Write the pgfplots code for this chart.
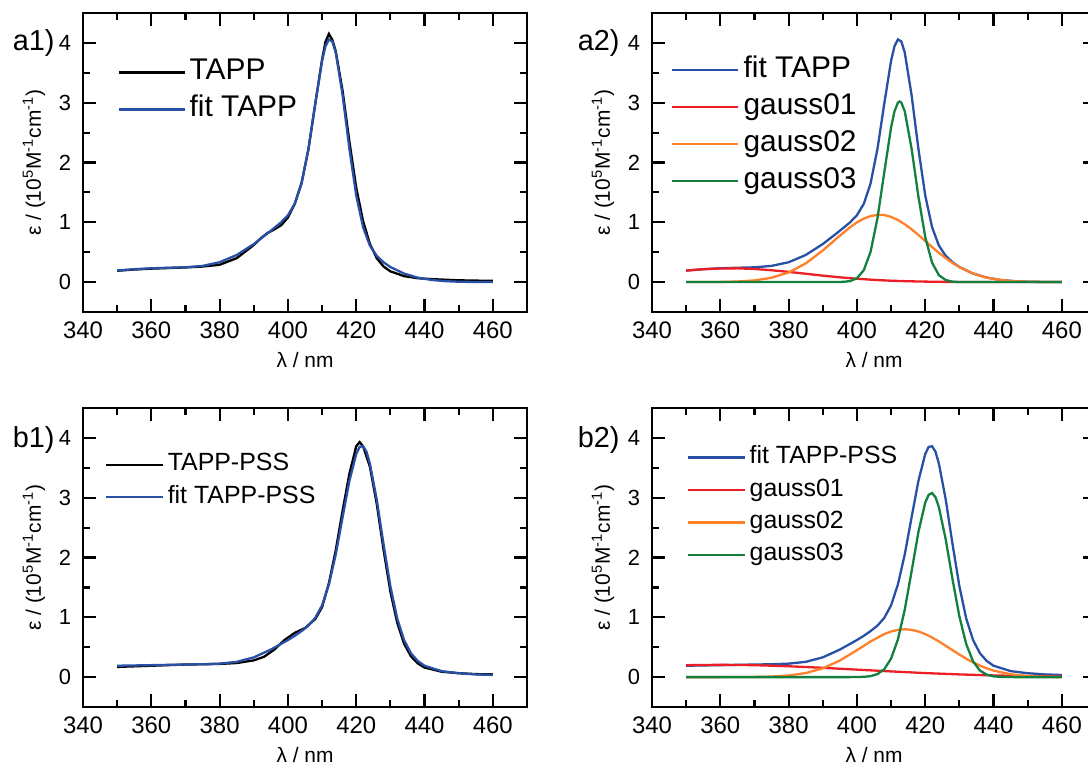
\documentclass[border=0pt]{standalone}
\usepackage{fontspec}
\setmainfont{Liberation Sans}
\usepackage{pgfplots}
\pgfplotsset{compat=1.18}

\definecolor{fitblue}{RGB}{40,80,165}
\definecolor{gred}{RGB}{236,30,38}
\definecolor{gorange}{RGB}{255,128,40}
\definecolor{ggreen}{RGB}{20,128,62}

\pgfplotsset{
  panel/.style={
    scale only axis, width=222bp, height=149.5bp,
    xmin=340, xmax=470, ymin=-0.5, ymax=4.5,
    xtick={340,360,...,460}, ytick={0,1,2,3,4},
    minor x tick num=1, minor y tick num=1,
    tick align=inside, major tick length=6.5bp, minor tick length=3.5bp,
    axis line style={line width=1.3bp},
    every tick/.append style={black, line width=1.1bp},
    /pgf/number format/assume math mode=true,
    xticklabel style={font=\fontsize{12}{14}\selectfont, yshift=-1.5bp},
    yticklabel style={font=\fontsize{11}{13}\selectfont, xshift=-2.5bp},
    xlabel={λ / nm},
    ylabel={ε / (10\textsuperscript{5}M\textsuperscript{-1}cm\textsuperscript{-1})},
    label style={font=\fontsize{10.5}{12}\selectfont},
    every axis plot/.append style={line width=1.15bp, no marks},
    legend cell align=left,
    legend style={draw=none, fill=none, anchor=north west, row sep=0pt},
  },
  biglegend/.style={
    legend style={font=\fontsize{15}{17}\selectfont,
      nodes={inner sep=2bp, text height=11bp, text depth=3.5bp}},
    legend image code/.code={\draw[##1,line width=1.15bp] (0bp,0bp) -- (33bp,0bp);},
  },
  smalllegend/.style={
    legend style={font=\fontsize{12.5}{14}\selectfont,
      nodes={inner sep=2bp, text height=9.2bp, text depth=3bp}},
    legend image code/.code={\draw[##1,line width=1.15bp] (0bp,0bp) -- (28.5bp,0bp);},
  },
}

\begin{document}
\begin{tikzpicture}
\useasboundingbox (0,0) rectangle (544bp,382.5bp);
\clip (0,0) rectangle (544bp,382.5bp);

% a1
\begin{axis}[panel, biglegend, at={(41.5bp,226.5bp)}, anchor=south west,
  legend style={at={(0.063,0.878)}}]
\addplot[black] coordinates {(350,0.19) (355,0.21) (360,0.225) (365,0.235) (370,0.245) (375,0.26) (380,0.29) (385,0.40) (390,0.62) (392,0.73) (394,0.82) (396,0.88) (398,0.95) (400,1.08) (402,1.31) (404,1.66) (406,2.22) (408,2.98) (410,3.72) (411,4.02) (412,4.15) (413,4.05) (414,3.86) (416,3.20) (418,2.35) (420,1.58) (422,1.02) (424,0.64) (426,0.40) (428,0.26) (430,0.18) (434,0.10) (438,0.065) (442,0.05) (446,0.04) (450,0.03) (455,0.025) (460,0.02)};
\addlegendentry{TAPP}
\addplot[fitblue] coordinates {(350,0.193) (355,0.216) (360,0.231) (365,0.240) (370,0.247) (375,0.271) (380,0.332) (385,0.453) (390,0.636) (394,0.813) (396,0.906) (398,1.000) (400,1.118) (402,1.308) (404,1.651) (406,2.222) (408,2.982) (410,3.701) (411,3.945) (412,4.058) (413,4.024) (414,3.841) (416,3.128) (418,2.229) (420,1.449) (422,0.918) (424,0.610) (426,0.439) (428,0.331) (430,0.252) (434,0.143) (438,0.075) (442,0.036) (446,0.016) (450,0.006) (455,0.002) (460,0.000)};
\addlegendentry{fit TAPP}
\end{axis}

% a2
\begin{axis}[panel, biglegend, at={(326bp,226.5bp)}, anchor=south west,
  legend style={at={(0.029,0.885)}}]
\addplot[fitblue] coordinates {(350,0.193) (355,0.216) (360,0.231) (365,0.240) (370,0.247) (375,0.271) (380,0.332) (385,0.453) (390,0.636) (394,0.813) (396,0.906) (398,1.000) (400,1.118) (402,1.308) (404,1.651) (406,2.222) (408,2.982) (410,3.701) (411,3.945) (412,4.058) (413,4.024) (414,3.841) (416,3.128) (418,2.229) (420,1.449) (422,0.918) (424,0.610) (426,0.439) (428,0.331) (430,0.252) (434,0.143) (438,0.075) (442,0.036) (446,0.016) (450,0.006) (455,0.002) (460,0.000)};
\addlegendentry{fit TAPP}
\addplot[gred] coordinates {(350,0.193) (355,0.215) (360,0.228) (365,0.230) (370,0.219) (375,0.198) (380,0.171) (385,0.140) (390,0.108) (395,0.080) (400,0.056) (405,0.037) (410,0.023) (415,0.014) (420,0.008) (425,0.004) (430,0.002) (440,0.000) (460,0.000)};
\addlegendentry{gauss01}
\addplot[gorange] coordinates {(350,0.000) (355,0.001) (360,0.003) (365,0.010) (370,0.028) (375,0.073) (380,0.161) (385,0.313) (390,0.528) (394,0.728) (398,0.918) (400,0.998) (402,1.062) (404,1.104) (406,1.124) (408,1.122) (410,1.090) (412,1.038) (414,0.968) (416,0.883) (418,0.788) (420,0.687) (422,0.587) (424,0.490) (426,0.401) (428,0.320) (430,0.250) (434,0.143) (438,0.075) (442,0.036) (446,0.016) (450,0.006) (455,0.002) (460,0.000)};
\addlegendentry{gauss02}
\addplot[ggreen] coordinates {(350,0) (390,0) (394,0.001) (396,0.004) (398,0.017) (400,0.064) (402,0.198) (404,0.507) (406,1.064) (408,1.832) (410,2.588) (411,2.857) (412,3.001) (412.5,3.02) (413,3.001) (414,2.857) (416,2.232) (418,1.431) (420,0.754) (422,0.325) (424,0.115) (426,0.034) (428,0.008) (430,0.001) (440,0) (460,0)};
\addlegendentry{gauss03}
\end{axis}

% b1
\begin{axis}[panel, smalllegend, at={(41.5bp,29bp)}, anchor=south west,
  legend style={at={(0.034,0.879)}}]
\addplot[black] coordinates {(350,0.17) (355,0.18) (360,0.19) (365,0.20) (370,0.21) (375,0.215) (380,0.22) (385,0.235) (390,0.28) (393,0.34) (396,0.46) (399,0.62) (402,0.74) (405,0.82) (408,0.97) (410,1.17) (412,1.57) (414,2.12) (416,2.78) (418,3.40) (420,3.86) (421,3.93) (422,3.86) (424,3.52) (426,2.90) (428,2.13) (430,1.43) (432,0.91) (434,0.56) (436,0.35) (438,0.23) (440,0.16) (445,0.09) (450,0.065) (455,0.05) (460,0.045)};
\addlegendentry{TAPP-PSS}
\addplot[fitblue] coordinates {(350,0.19) (355,0.195) (360,0.20) (365,0.205) (370,0.21) (375,0.215) (380,0.225) (385,0.255) (390,0.33) (395,0.46) (400,0.62) (402,0.69) (404,0.77) (406,0.86) (408,0.99) (410,1.20) (412,1.55) (414,2.05) (416,2.67) (418,3.28) (420,3.73) (421,3.85) (422,3.86) (423,3.77) (424,3.57) (426,2.97) (428,2.22) (430,1.52) (432,0.98) (434,0.62) (436,0.40) (438,0.27) (440,0.19) (445,0.10) (450,0.065) (455,0.045) (460,0.035)};
\addlegendentry{fit TAPP-PSS}
\end{axis}

% b2
\begin{axis}[panel, smalllegend, at={(326bp,29bp)}, anchor=south west,
  legend style={at={(0.063,0.903)}}]
\addplot[fitblue] coordinates {(350,0.19) (355,0.195) (360,0.20) (365,0.205) (370,0.21) (375,0.215) (380,0.225) (385,0.255) (390,0.33) (395,0.46) (400,0.62) (402,0.69) (404,0.77) (406,0.86) (408,0.99) (410,1.20) (412,1.55) (414,2.05) (416,2.67) (418,3.28) (420,3.73) (421,3.85) (422,3.86) (423,3.77) (424,3.57) (426,2.97) (428,2.22) (430,1.52) (432,0.98) (434,0.62) (436,0.40) (438,0.27) (440,0.19) (445,0.10) (450,0.065) (455,0.045) (460,0.035)};
\addlegendentry{fit TAPP-PSS}
\addplot[gred] coordinates {(350,0.199) (355,0.203) (360,0.205) (365,0.203) (370,0.199) (375,0.191) (380,0.181) (385,0.169) (390,0.155) (395,0.140) (400,0.125) (405,0.110) (410,0.095) (415,0.081) (420,0.067) (425,0.056) (430,0.045) (435,0.036) (440,0.028) (445,0.022) (450,0.017) (455,0.013) (460,0.009)};
\addlegendentry{gauss01}
\addplot[gorange] coordinates {(350,0) (360,0) (365,0.001) (370,0.003) (375,0.009) (380,0.027) (385,0.067) (390,0.147) (395,0.277) (400,0.450) (404,0.596) (408,0.720) (410,0.763) (412,0.791) (414,0.800) (416,0.791) (418,0.763) (420,0.720) (422,0.663) (424,0.596) (426,0.524) (428,0.450) (430,0.377) (432,0.308) (434,0.247) (436,0.193) (438,0.147) (440,0.109) (445,0.047) (450,0.018) (455,0.006) (460,0.002)};
\addlegendentry{gauss02}
\addplot[ggreen] coordinates {(350,0) (398,0) (400,0.001) (402,0.005) (404,0.016) (406,0.050) (408,0.132) (410,0.309) (412,0.630) (414,1.127) (416,1.766) (418,2.426) (420,2.919) (421,3.048) (422,3.078) (423,3.008) (424,2.843) (426,2.301) (428,1.632) (430,1.014) (432,0.552) (434,0.263) (436,0.110) (438,0.040) (440,0.013) (442,0.004) (444,0.001) (446,0) (460,0)};
\addlegendentry{gauss03}
\end{axis}

\node[anchor=east, font=\fontsize{14.5}{16}\selectfont, inner sep=0pt] at (27.5bp,361bp) {a1)};
\node[anchor=east, font=\fontsize{14.5}{16}\selectfont, inner sep=0pt] at (310bp,361bp) {a2)};
\node[anchor=east, font=\fontsize{14.5}{16}\selectfont, inner sep=0pt] at (27.5bp,162.5bp) {b1)};
\node[anchor=east, font=\fontsize{14.5}{16}\selectfont, inner sep=0pt] at (310bp,162.5bp) {b2)};
\end{tikzpicture}
\end{document}
